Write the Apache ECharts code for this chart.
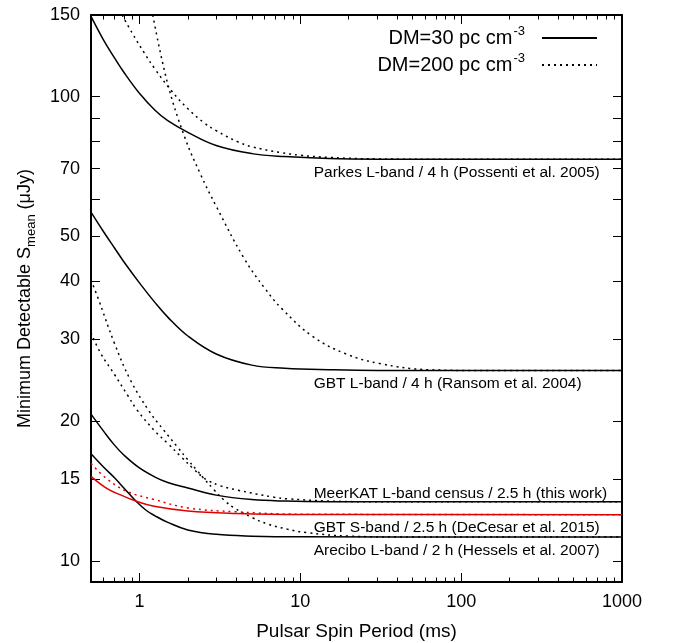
<!DOCTYPE html>
<html>
<head>
<meta charset="utf-8">
<script src="https://cdn.jsdelivr.net/npm/echarts@6/dist/echarts.min.js"></script>
<style>
html, body { margin: 0; padding: 0; background: #fff; }
#chart { width: 675px; height: 643px; }
</style>
</head>
<body>
<div id="chart"></div>
<script>
// [spin period (ms), minimum detectable flux (uJy)]
const parkesDM30 = [[0.5, 149], [0.6, 132.3], [0.7, 121.2], [0.8, 112.9], [1, 101.7], [1.25, 93.5], [1.5, 88.8], [2, 83.8], [3, 78.5], [5, 75.4], [8, 74.3], [15, 73.6], [30, 73.35], [100, 73.3], [1000, 73.3]]
const parkesDM200 = [[0.78, 150], [0.9, 137.3], [1.07, 124.4], [1.25, 114.7], [1.57, 103.3], [2, 94.2], [2.53, 87.8], [3, 84.5], [4.07, 80.0], [5, 78.0], [7.57, 75.8], [10, 74.8], [15, 74.0], [30, 73.45], [100, 73.3], [1000, 73.3]]
const gbtLDM30 = [[0.5, 56.4], [0.6, 51.1], [0.7, 47.2], [0.8, 44.1], [1, 39.7], [1.25, 36.0], [1.5, 33.5], [2, 30.5], [3, 27.9], [5, 26.4], [8, 26.0], [15, 25.8], [30, 25.7], [1000, 25.7]]
const gbtLDM200 = [[1.21, 150], [1.49, 107.5], [1.9, 82.3], [2.4, 68.0], [3, 58.1], [4.48, 44.8], [6, 38.7], [7.7, 34.9], [12, 30.4], [19.3, 27.9], [31.2, 26.6], [63.6, 25.8], [150, 25.7], [1000, 25.7]]
const meerkatDM30 = [[0.5, 20.7], [0.6, 19.0], [0.7, 17.75], [0.8, 16.9], [1, 15.85], [1.25, 15.15], [1.5, 14.75], [2, 14.35], [3, 13.85], [5, 13.55], [8, 13.45], [15, 13.41], [1000, 13.4]]
const meerkatDM200 = [[0.5, 31], [0.574, 28.0], [0.7, 25.2], [0.84, 22.8], [0.97, 21.1], [1.235, 19.1], [1.5, 17.9], [1.8, 16.8], [2.2, 15.7], [2.47, 15.15], [2.65, 14.9], [3.2, 14.5], [4.07, 14.2], [6.9, 13.7], [8.3, 13.6], [15, 13.45], [30, 13.4], [1000, 13.4]]
const areciboDM30 = [[0.5, 17.0], [0.6, 15.9], [0.7, 15.1], [0.8, 14.35], [0.95, 13.45], [1.1, 12.85], [1.25, 12.5], [1.5, 12.1], [2, 11.65], [3, 11.4], [5, 11.3], [10, 11.26], [1000, 11.25]]
const areciboDM200 = [[0.5, 40.3], [0.55, 37.0], [0.7, 29.4], [0.88, 24.5], [1.15, 21.0], [1.42, 19.1], [1.72, 17.6], [2, 16.5], [2.3, 15.6], [2.47, 15.15], [2.92, 14.2], [3.37, 13.5], [3.88, 13.0], [5, 12.4], [6.26, 12.0], [8.3, 11.7], [10.9, 11.5], [20, 11.3], [50, 11.25], [1000, 11.25]]
const gbtSDM30 = [[0.5, 15.2], [0.63, 14.3], [0.77, 13.85], [0.95, 13.45], [1.235, 13.1], [2, 12.8], [4, 12.65], [10, 12.58], [1000, 12.57]]
const gbtSDM200 = [[0.5, 16.2], [0.63, 15.0], [0.84, 14.1], [1.235, 13.55], [2, 13.0], [4, 12.75], [10, 12.6], [1000, 12.57]]

// survey labels: text and level (uJy) of the flat part
const surveyNames = [
  'Parkes L-band / 4 h (Possenti et al. 2005)',
  'GBT L-band / 4 h (Ransom et al. 2004)',
  'MeerKAT L-band census / 2.5 h (this work)',
  'GBT S-band / 2.5 h (DeCesar et al. 2015)',
  'Arecibo L-band / 2 h (Hessels et al. 2007)'
]
const surveyLevels = [73.3, 25.7, 13.4, 12.57, 11.25]
const labelStartPeriod = 12.2

// axes
const xRange = [0.5, 1000]
const yRange = [9, 150]
const xMajorTicks = [1, 10, 100, 1000]
const xMinorTicks = [0.6, 0.7, 0.8, 0.9, 2, 3, 4, 5, 6, 7, 8, 9, 20, 30, 40, 50, 60, 70, 80, 90, 200, 300, 400, 500, 600, 700, 800, 900]
const yTicks = [10, 15, 20, 30, 40, 50, 60, 70, 80, 90, 100, 150]
const yLabels = [10, 15, 20, 30, 40, 50, 70, 100, 150]

const FONT = '"Liberation Sans", Arial, Helvetica, sans-serif'
const log = v => Math.log10(v)
const toLog = arr => arr.map(p => [log(p[0]), log(p[1])])
const fmt = v => String(Math.round(Math.pow(10, v)))

function surveyMark(i) {
  const above = i === 2
  return {
    symbol: 'circle',
    symbolSize: 1,
    silent: true,
    itemStyle: { color: 'rgba(0,0,0,0)' },
    data: [{
      coord: [log(labelStartPeriod), log(surveyLevels[i])],
      label: {
        show: true,
        formatter: surveyNames[i],
        position: [0, above ? -8 : 14],
        align: 'left',
        verticalAlign: 'middle',
        color: '#000',
        fontSize: 15.5,
        fontFamily: FONT
      }
    }]
  }
}

function curve(name, data, dotted, color, markIdx) {
  const s = {
    type: 'line',
    name: name,
    data: toLog(data),
    symbol: 'none',
    showSymbol: false,
    smooth: 0.4,
    silent: true,
    clip: true,
    lineStyle: {
      width: 1.5,
      color: color,
      type: dotted ? [2, 4] : 'solid'
    },
    itemStyle: { color: color }
  }
  if (markIdx !== undefined) s.markPoint = surveyMark(markIdx)
  return s
}

function xAxisDef(position, ticks, len, main) {
  return {
    type: 'value',
    position: position,
    min: log(xRange[0]),
    max: log(xRange[1]),
    splitLine: { show: false },
    axisLine: { show: main, onZero: false, lineStyle: { color: '#000', width: 2 } },
    axisTick: { show: true, inside: true, length: len, customValues: ticks.map(log), lineStyle: { color: '#000', width: 1 } },
    axisLabel: { show: false }
  }
}

function yAxisDef(position) {
  return {
    type: 'value',
    position: position,
    min: log(yRange[0]),
    max: log(yRange[1]),
    splitLine: { show: false },
    axisLine: { show: true, onZero: false, lineStyle: { color: '#000', width: 2 } },
    axisTick: { show: true, inside: true, length: 9, customValues: yTicks.map(log), lineStyle: { color: '#000', width: 1 } },
    axisLabel: { show: false }
  }
}

const xBottom = xAxisDef('bottom', xMajorTicks, 9, true)
xBottom.axisLabel = { show: true, customValues: xMajorTicks.map(log), formatter: fmt, fontSize: 18, margin: 11, color: '#000', fontFamily: FONT }
xBottom.name = 'Pulsar Spin Period (ms)'
xBottom.nameLocation = 'middle'
xBottom.nameGap = 40
xBottom.nameTextStyle = { fontSize: 19, color: '#000', fontFamily: FONT }

const yLeft = yAxisDef('left')
yLeft.axisLabel = { show: true, customValues: yLabels.map(log), formatter: fmt, fontSize: 18, margin: 11, color: '#000', fontFamily: FONT }
yLeft.name = 'Minimum Detectable S{sub|mean} (μJy)'
yLeft.nameLocation = 'middle'
yLeft.nameGap = 53
yLeft.nameTextStyle = {
  fontSize: 18, lineHeight: 26, color: '#000', fontFamily: FONT,
  rich: { sub: { fontSize: 13, lineHeight: 13, verticalAlign: 'bottom', color: '#000', fontFamily: FONT } }
}

const chart = echarts.init(document.getElementById('chart'), null, { renderer: 'canvas' })
chart.setOption({
  animation: false,
  backgroundColor: '#fff',
  grid: { left: 91, right: 53, top: 15, bottom: 61, containLabel: false, outerBoundsMode: 'none' },
  xAxis: [
    xBottom,
    xAxisDef('bottom', xMinorTicks, 4.5, false),
    xAxisDef('top', xMajorTicks, 9, true),
    xAxisDef('top', xMinorTicks, 4.5, false)
  ],
  yAxis: [yLeft, yAxisDef('right')],
  legend: {
    data: ['DM=30', 'DM=200'],
    orient: 'vertical',
    right: 77,
    top: 25,
    padding: 0,
    align: 'right',
    itemWidth: 55,
    itemHeight: 14,
    itemGap: 4,
    selectedMode: false,
    itemStyle: { color: 'rgba(0,0,0,0)', borderWidth: 0, opacity: 0 },
    formatter: n => '{t|' + n + ' pc cm}{sup|-3}',
    textStyle: {
      color: '#000',
      rich: {
        t: { fontSize: 20, lineHeight: 26, color: '#000', fontFamily: FONT },
        sup: { fontSize: 13, lineHeight: 13, verticalAlign: 'top', padding: [0, 12, 0, 1], color: '#000', fontFamily: FONT }
      }
    }
  },
  series: [
    curve('DM=30', parkesDM30, false, '#000', 0),
    curve('DM=200', parkesDM200, true, '#000'),
    curve('DM=30', gbtLDM30, false, '#000', 1),
    curve('DM=200', gbtLDM200, true, '#000'),
    curve('DM=30', meerkatDM30, false, '#000', 2),
    curve('DM=200', meerkatDM200, true, '#000'),
    curve('DM=30', areciboDM30, false, '#000', 4),
    curve('DM=200', areciboDM200, true, '#000'),
    curve('GBT S DM=30', gbtSDM30, false, '#e00000', 3),
    curve('GBT S DM=200', gbtSDM200, true, '#e00000')
  ]
})
</script>
</body>
</html>
